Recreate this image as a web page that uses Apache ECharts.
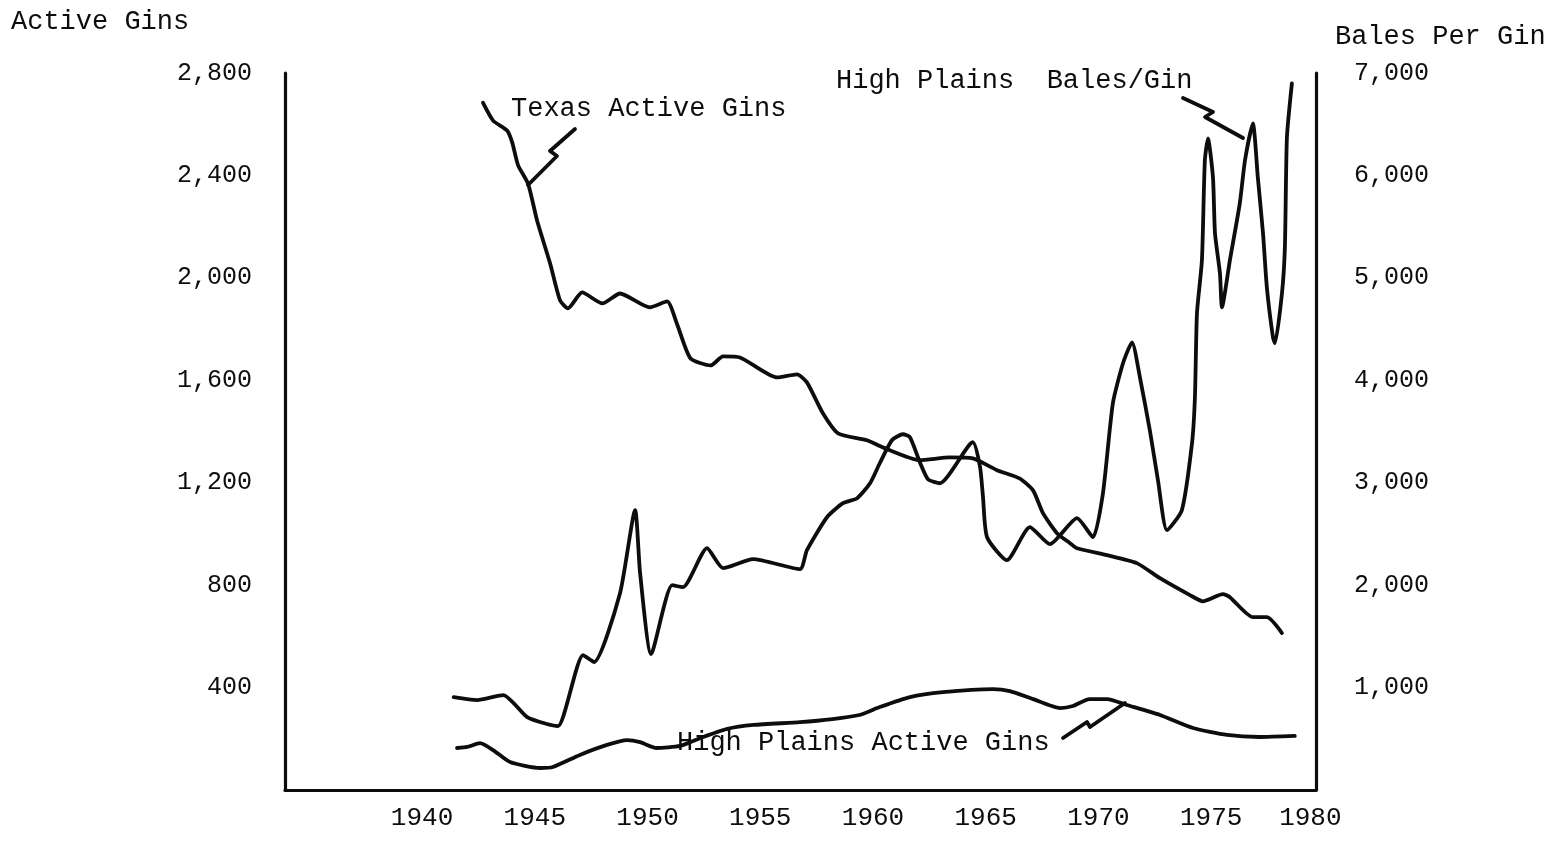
<!DOCTYPE html>
<html>
<head>
<meta charset="utf-8">
<script src="https://cdn.jsdelivr.net/npm/echarts@6/dist/echarts.min.js"></script>
<style>
html,body{margin:0;padding:0;background:#fff;}
#chart{width:1556px;height:841px;}
</style>
</head>
<body>
<div id="chart"></div>
<script>
// ---- tick labels ----
const xTickYears = [1940, 1945, 1950, 1955, 1960, 1965, 1970, 1975, 1980];
const leftTicks = [400, 800, 1200, 1600, 2000, 2400, 2800];
const rightTicks = [1000, 2000, 3000, 4000, 5000, 6000, 7000];

// ---- Texas Active Gins (left axis) ----
const texasYears = [1942.7, 1943.15, 1943.77, 1944.0, 1944.26, 1944.7, 1945.1, 1945.68, 1946.12, 1946.47, 1947.1, 1948.0, 1948.78, 1950.1, 1950.87, 1951.3, 1951.9, 1952.8, 1953.35, 1954.1, 1955.74, 1956.63, 1957.07, 1957.78, 1958.45, 1959.73, 1960.44, 1962.08, 1963.41, 1964.43, 1965.5, 1966.5, 1967.1, 1967.54, 1968.16, 1968.74, 1969.05, 1970.38, 1971.7, 1972.73, 1974.06, 1974.63, 1975.52, 1975.83, 1976.85, 1977.47, 1978.14];
const texasGins = [2684, 2614, 2575, 2528, 2439, 2368, 2224, 2056, 1912, 1881, 1943, 1900, 1939, 1885, 1908, 1822, 1686, 1658, 1693, 1689, 1611, 1623, 1592, 1471, 1393, 1366, 1338, 1288, 1299, 1295, 1249, 1217, 1170, 1081, 1003, 964, 944, 917, 886, 827, 761, 737, 765, 753, 675, 675, 613];

// ---- High Plains Active Gins (left axis) ----
const hpYears = [1941.55, 1942.0, 1942.57, 1943.15, 1943.9, 1945.23, 1945.8, 1947.0, 1948.2, 1949.09, 1949.67, 1950.4, 1951.44, 1952.46, 1953.5, 1954.7, 1956.76, 1958.2, 1959.4, 1960.3, 1961.64, 1963.1, 1965.32, 1966.07, 1967.1, 1968.3, 1968.87, 1969.6, 1970.38, 1971.26, 1972.73, 1974.2, 1975.7, 1977.16, 1978.71];
const hpGins = [164, 168, 183, 156, 109, 86, 90, 137, 176, 195, 187, 164, 172, 207, 238, 254, 265, 277, 293, 324, 363, 382, 394, 386, 355, 320, 328, 355, 355, 332, 293, 242, 215, 207, 211];

// ---- High Plains Bales per Gin (right axis) ----
const balesYears = [1941.4, 1942.44, 1943.6, 1944.66, 1945.54, 1946.03, 1947.14, 1947.63, 1948.78, 1949.45, 1949.67, 1950.16, 1951.09, 1951.57, 1952.64, 1953.35, 1954.68, 1956.76, 1957.07, 1957.96, 1958.67, 1959.3, 1959.87, 1960.3, 1960.84, 1961.33, 1961.64, 1962.08, 1962.44, 1962.97, 1964.43, 1964.75, 1964.88, 1965.06, 1965.94, 1966.96, 1967.85, 1969.05, 1969.76, 1970.2, 1970.64, 1971.09, 1971.49, 1971.84, 1972.28, 1972.64, 1973.04, 1973.7, 1974.15, 1974.28, 1974.37, 1974.59, 1974.72, 1974.86, 1975.08, 1975.17, 1975.39, 1975.48, 1975.83, 1976.27, 1976.5, 1976.85, 1977.07, 1977.3, 1977.47, 1977.74, 1977.83, 1978.14, 1978.27, 1978.36, 1978.58];
const balesPerGin = [907, 878, 927, 712, 644, 624, 1317, 1249, 1922, 2732, 2117, 1327, 2000, 1980, 2361, 2166, 2254, 2156, 2341, 2663, 2800, 2849, 2995, 3190, 3415, 3473, 3444, 3200, 3034, 2995, 3395, 3151, 2859, 2468, 2244, 2566, 2400, 2654, 2468, 2898, 3776, 4166, 4371, 4029, 3512, 3024, 2537, 2732, 3385, 3834, 4654, 5171, 6146, 6361, 5980, 5434, 5044, 4712, 5171, 5727, 6146, 6507, 5980, 5434, 4907, 4420, 4361, 4849, 5298, 6371, 6898];

const X_MIN = 1933.92;
const X_MAX = 1979.65;
const INK = '#0d0d0d';
const FONT = '"Liberation Mono", "DejaVu Sans Mono", monospace';

function pairs(xs, ys) { return xs.map((x, i) => [x, ys[i]]); }
function fmtNum(v) { return v === 0 ? '' : v.toLocaleString('en-US'); }

const lineSeries = (name, data, yIdx) => ({
  name, type: 'line', yAxisIndex: yIdx, data,
  showSymbol: false, symbol: 'none', smooth: 0.2,
  lineStyle: { color: INK, width: 3.8, cap: 'round', join: 'round' },
  emphasis: { disabled: true }, silent: true, z: 3
});

const chart = echarts.init(document.getElementById('chart'), null, { renderer: 'canvas' });

const txt = (text, x, y, size) => ({
  type: 'text', z: 50, silent: true,
  style: { text, x, y, font: size + 'px ' + FONT, fill: INK,
           textAlign: 'left', align: 'left', textVerticalAlign: 'middle', verticalAlign: 'middle' }
});
const pline = (points) => ({
  type: 'polyline', z: 50, silent: true,
  shape: { points },
  style: { stroke: INK, lineWidth: 3.8, fill: null, lineCap: 'round', lineJoin: 'round' }
});

chart.setOption({
  animation: false,
  backgroundColor: '#ffffff',
  grid: { left: 285, right: 240, top: 73, bottom: 51, containLabel: false },
  xAxis: {
    type: 'value', min: X_MIN, max: X_MAX,
    axisLine: { show: true, onZero: false, lineStyle: { color: INK, width: 3.2 } },
    axisTick: { show: false },
    splitLine: { show: false },
    axisLabel: {
      customValues: xTickYears.map(y => Math.min(y, X_MAX - 0.25)),
      formatter: v => String(Math.round(v / 5) * 5),
      margin: 15, fontFamily: FONT, fontSize: 26, color: INK
    }
  },
  yAxis: [
    {
      type: 'value', min: 0, max: 2800, interval: 400, position: 'left',
      axisLine: { show: true, onZero: false, lineStyle: { color: INK, width: 3.2 } },
      axisTick: { show: false }, splitLine: { show: false },
      axisLabel: { customValues: leftTicks, formatter: fmtNum, margin: 33, fontFamily: FONT, fontSize: 25, color: INK }
    },
    {
      type: 'value', min: 0, max: 7000, interval: 1000, position: 'right',
      axisLine: { show: true, onZero: false, lineStyle: { color: INK, width: 3.2 } },
      axisTick: { show: false }, splitLine: { show: false },
      axisLabel: { customValues: rightTicks, formatter: fmtNum, margin: 38, fontFamily: FONT, fontSize: 25, color: INK }
    }
  ],
  series: [
    lineSeries('Texas Active Gins', pairs(texasYears, texasGins), 0),
    lineSeries('High Plains Active Gins', pairs(hpYears, hpGins), 0),
    lineSeries('High Plains Bales/Gin', pairs(balesYears, balesPerGin), 1)
  ],
  graphic: [
    txt('Active Gins', 11, 22, 27),
    txt('Bales Per Gin', 1335, 37, 27),
    txt('Texas Active Gins', 511, 109, 27),
    txt('High Plains  Bales/Gin', 836, 81, 27),
    txt('High Plains Active Gins', 677, 743, 27),
    pline([[575, 129], [550, 151], [557, 156], [528, 185]]),
    pline([[1183, 98], [1213, 112], [1205, 117], [1243, 138]]),
    pline([[1063, 738], [1087, 722], [1090, 727], [1125, 703]])
  ]
});
</script>
</body>
</html>
